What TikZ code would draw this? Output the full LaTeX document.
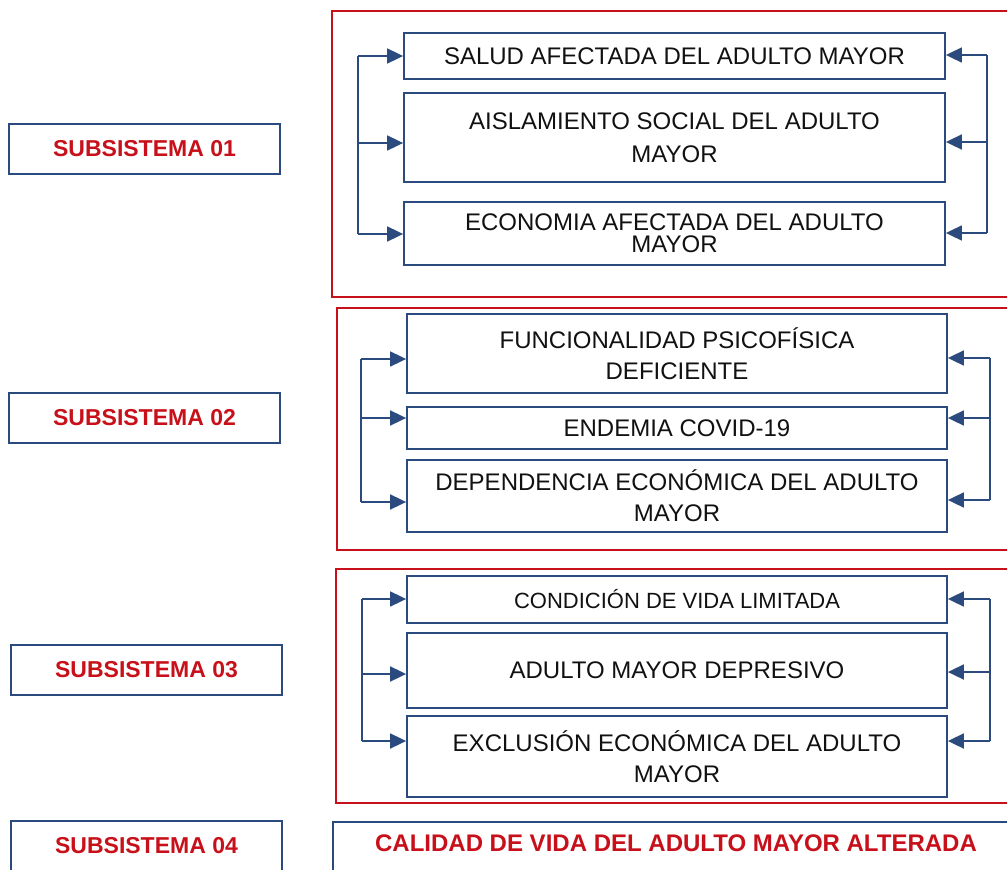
\documentclass[tikz,border=0pt]{standalone}
\usepackage{fontspec}
\setmainfont{Liberation Sans}
\usetikzlibrary{arrows.meta,positioning}
\definecolor{navy}{HTML}{2B4A7E}
\definecolor{crimson}{HTML}{C8101A}
\definecolor{ink}{HTML}{111111}
\tikzset{frame/.style={draw=crimson,line width=2.2pt},item/.style={draw=navy,line width=1.8pt,align=center,text=ink,inner sep=0pt,font=\fontsize{24}{31}\selectfont},tag/.style={draw=navy,line width=1.8pt,minimum width=271,minimum height=50,text=crimson,font=\bfseries\fontsize{23}{26}\selectfont},link/.style={-{Triangle[length=16pt,width=15pt]},draw=navy,line width=1.8pt},rail/.style={draw=navy,line width=1.8pt}}
\begin{document}
\begin{tikzpicture}[x=1pt,y=-1pt]
 \clip (0,0) rectangle (1007,870);
 \fill[white] (0,0) rectangle (1007,870);
 % subsystem labels
 \node[tag] (t1) at (144.5,149) {SUBSISTEMA 01};
 \node[tag] (t2) at (144.5,418) {SUBSISTEMA 02};
 \node[tag] (t3) at (146.5,670) {SUBSISTEMA 03};
 \node[tag] (t4) at (146.5,846) {SUBSISTEMA 04};
 % red frames
 \draw[frame] (332,11) rectangle (1015,297);
 \draw[frame] (337,308) rectangle (1015,550);
 \draw[frame] (336,569) rectangle (1015,803);
 % subsystem 01
 \node[item,minimum width=541,minimum height=46] (s1a) at (674.5,56) {SALUD AFECTADA DEL ADULTO MAYOR};
 \node[item,minimum width=541,minimum height=89,font=\fontsize{24}{33}\selectfont] (s1b) at (674.5,137.5) {AISLAMIENTO SOCIAL DEL ADULTO\\MAYOR};
 \node[item,minimum width=541,minimum height=63,font=\fontsize{24}{22}\selectfont] (s1c) at (674.5,233.5) {ECONOMIA AFECTADA DEL ADULTO\\MAYOR};
 % subsystem 02
 \node[item,minimum width=540,minimum height=79] (s2a) at (677,353.5) {FUNCIONALIDAD PSICOFÍSICA\\DEFICIENTE};
 \node[item,minimum width=540,minimum height=42] (s2b) at (677,428) {ENDEMIA COVID-19};
 \node[item,minimum width=540,minimum height=72] (s2c) at (677,496) {DEPENDENCIA ECONÓMICA DEL ADULTO\\MAYOR};
 % subsystem 03
 \node[item,minimum width=540,minimum height=47,font=\fontsize{22}{26}\selectfont] (s3a) at (677,599.5) {CONDICIÓN DE VIDA LIMITADA};
 \node[item,minimum width=540,minimum height=75] (s3b) at (677,670.5) {ADULTO MAYOR DEPRESIVO};
 \node[item,minimum width=540,minimum height=81] (s3c) at (677,756.5) {EXCLUSIÓN ECONÓMICA DEL ADULTO\\MAYOR};
 % result
 \node[draw=navy,line width=1.8pt,minimum width=690,minimum height=50,anchor=north west] (res) at (332,821) {};
 \node[text=crimson,font=\bfseries\fontsize{24}{26}\selectfont] (restxt) at (676,843) {CALIDAD DE VIDA DEL ADULTO MAYOR ALTERADA};
 % feedback brackets
 \foreach \s/\lx/\rx/\la/\lb/\lc/\ra/\rb/\rc in {1/358/987/56/143/234/55/142/233,2/361/990/359/418/502/358/418/500,3/362/990/599/674/741/599/672/741}{
  \coordinate (L\s a) at (\lx,\la); \coordinate (L\s b) at (\lx,\lb); \coordinate (L\s c) at (\lx,\lc);
  \coordinate (R\s a) at (\rx,\ra); \coordinate (R\s b) at (\rx,\rb); \coordinate (R\s c) at (\rx,\rc);
  \draw[rail] (L\s a) -- (L\s c); \draw[rail] (R\s a) -- (R\s c);
  \foreach \n in {a,b,c}{\draw[link] (L\s\n) -- (L\s\n -| s\s\n.west); \draw[link] (R\s\n) -- (R\s\n -| s\s\n.east);}
 }
\end{tikzpicture}
\end{document}
